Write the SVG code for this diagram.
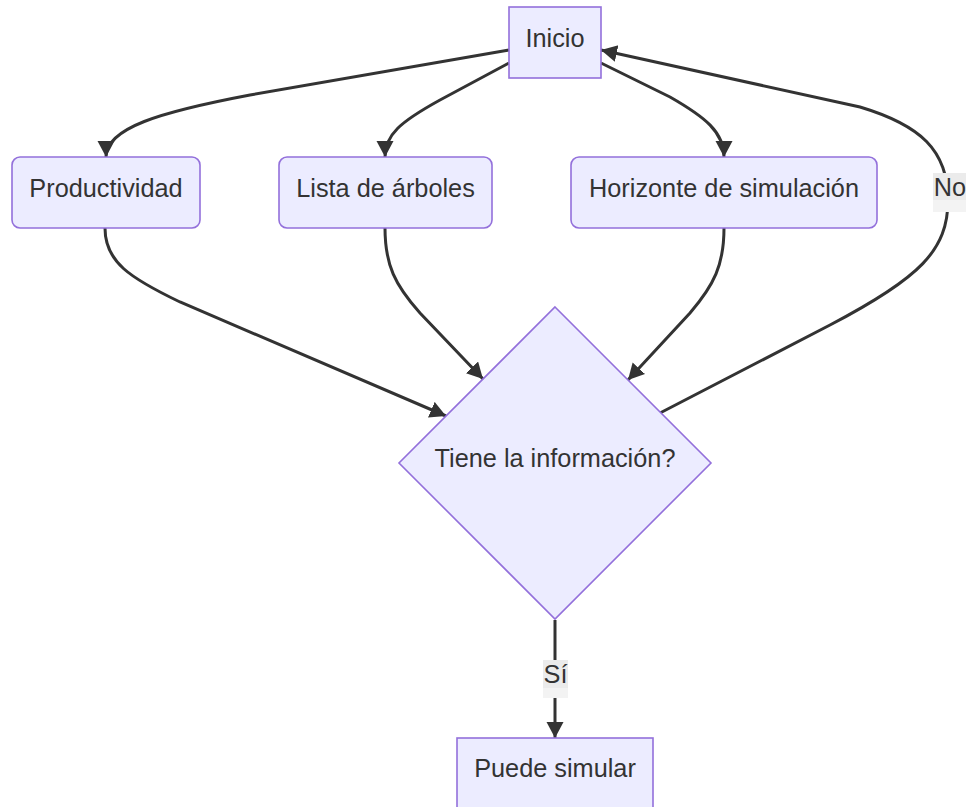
<svg xmlns="http://www.w3.org/2000/svg" width="966" height="807" viewBox="0 0 966 807">
<style>
.node{fill:#ECECFF;stroke:#9370DB;stroke-width:1.6}
.lbl{font-family:"Liberation Sans",Arial,sans-serif;font-size:25.3px;fill:#333;text-anchor:middle}
.edge{fill:none;stroke:#333;stroke-width:3}
.ebg{fill:#e8e8e8;opacity:0.8}
.ebg2{fill:#e8e8e8;opacity:0.5}
</style>
<defs>
<marker id="arr" markerUnits="userSpaceOnUse" markerWidth="18" markerHeight="18" refX="16" refY="8.5" orient="auto">
<path d="M0,0 L16,8.5 L0,17 z" fill="#333"/>
</marker>
</defs>
<rect width="966" height="807" fill="#ffffff"/>
<g id="connectors">
<path class="edge" marker-end="url(#arr)" d="M509,50 L250,95 C160,112 106,128 106,157"/>
<path class="edge" marker-end="url(#arr)" d="M509,63 L440,100 C400,122 385,135 385,157"/>
<path class="edge" marker-end="url(#arr)" d="M601,63 L670,97 C705,117 724,132 724,157"/>
<path class="edge" marker-end="url(#arr)" d="M660,413 L830,325 C920,278 948,250 948,200 C948,150 920,125 860,107 L601,50"/>
<path class="edge" marker-end="url(#arr)" d="M105,228 C105,262 130,278 180,302 L446,416"/>
<path class="edge" marker-end="url(#arr)" d="M385,228 C385,265 395,285 420,313 L483,379"/>
<path class="edge" marker-end="url(#arr)" d="M724,228 C724,265 714,285 690,313 L628,380"/>
<path class="edge" marker-end="url(#arr)" d="M555,620 L555,738"/>
<g id="label-no">
<rect x="933" y="173" width="40" height="39" fill="#ffffff"/>
<rect class="ebg2" x="933" y="173" width="40" height="39"/>
<rect class="ebg" x="933" y="173" width="40" height="27"/>
<text class="lbl" x="950" y="196">No</text>
</g>
<g id="label-si">
<rect x="543" y="660" width="25" height="38" fill="#ffffff"/>
<rect class="ebg2" x="543" y="660" width="25" height="38"/>
<rect class="ebg" x="543" y="660" width="25" height="28"/>
<text class="lbl" x="555.5" y="683">Sí</text>
</g>
</g>
<g id="inicio">
<rect class="node" x="509" y="7" width="92" height="71"/>
<text class="lbl" x="555" y="47">Inicio</text>
</g>
<g id="productividad">
<rect class="node" x="12" y="157" width="188" height="71" rx="8"/>
<text class="lbl" x="106" y="197">Productividad</text>
</g>
<g id="lista">
<rect class="node" x="279" y="157" width="213" height="71" rx="8"/>
<text class="lbl" x="385.5" y="197">Lista de árboles</text>
</g>
<g id="horizonte">
<rect class="node" x="571" y="157" width="306" height="71" rx="8"/>
<text class="lbl" x="724" y="197">Horizonte de simulación</text>
</g>
<g id="decision">
<polygon class="node" points="555,307 711,463 555,619 399,463"/>
<text class="lbl" x="555" y="467">Tiene la información?</text>
</g>
<g id="puede">
<rect class="node" x="457" y="738" width="196" height="72"/>
<text class="lbl" x="555" y="777">Puede simular</text>
</g>
</svg>
